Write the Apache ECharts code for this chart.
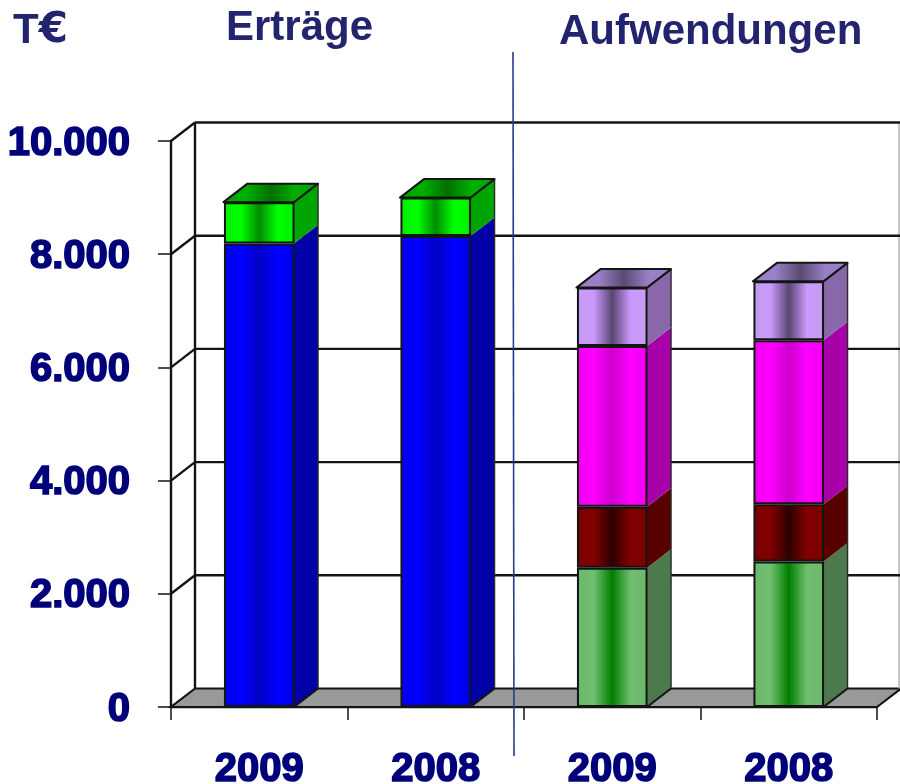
<!DOCTYPE html>
<html><head><meta charset="utf-8">
<style>html,body{margin:0;padding:0;background:#fff}#c{width:900px;height:784px}</style>
<script src="https://cdn.jsdelivr.net/npm/echarts@6/dist/echarts.min.js"></script>
</head><body><div id="c"></div>
<script>
const categories = ['2009','2008','2009','2008'];
const yTicks = [0,2000,4000,6000,8000,10000];
const ertraegeBlue   = [8190,8320,null,null];
const ertraegeGreen  = [730,680,null,null];
const aufwandGreen   = [null,null,2460,2570];
const aufwandRed     = [null,null,1080,1010];
const aufwandMagenta = [null,null,2840,2900];
const aufwandPurple  = [null,null,1030,1040];

const DX = 24, DY = -18.5, INK = '#141414', NAVY = '#00007a', TITLE = '#22246e';
const grad = (edge, bright, mid) => ({type:'linear',x:0,y:0,x2:1,y2:0,colorStops:[
  {offset:0,color:edge},{offset:.24,color:bright},{offset:.5,color:mid},{offset:.76,color:bright},{offset:1,color:edge}]});

const stacks = [
  {name:'Erträge A', values:ertraegeBlue,   front:grad('#0000e8','#0000ff','#0000c4'), side:'#0000a6', top:null},
  {name:'Erträge B', values:ertraegeGreen,  front:grad('#00ee00','#00ff00','#008c00'), side:'#00a400', top:grad('#00a000','#00b000','#007000')},
  {name:'Aufwand A', values:aufwandGreen,   front:grad('#6cb86c','#70bf70','#007e00'), side:'#4d7a4d', top:null},
  {name:'Aufwand B', values:aufwandRed,     front:grad('#7a0000','#820000','#2c0000'), side:'#560000', top:null},
  {name:'Aufwand C', values:aufwandMagenta, front:grad('#f000f0','#ff00ff','#cc00cc'), side:'#a800a8', top:null},
  {name:'Aufwand D', values:aufwandPurple,  front:grad('#c49cf0','#cc99ff','#5a4670'), side:'#8868a8', top:grad('#9a80c8','#9a80c8','#584a70')}
];

/* wall, floor and grid lines */
function renderFrame(params, api){
  const cs = params.coordSys, v = api.value(1);
  const y = api.coord([0,v])[1];
  const L = cs.x, R = cs.x + cs.width;
  const line = (x1,y1,x2,y2,w,c) => ({type:'line',shape:{x1,y1,x2,y2},style:{stroke:c||INK,lineWidth:w||2.4}});
  const kids = [];
  if (v === yTicks[0]) {
    kids.push({type:'polygon',shape:{points:[[L,y],[R,y],[R+DX,y+DY],[L+DX,y+DY]]},style:{fill:'#999999',stroke:INK,lineWidth:2.2}});
    const t = cs.y;
    kids.push(line(L+DX,y+DY,L+DX,t+DY));
    kids.push(line(R+DX-2,y+DY,R+DX-2,t+DY,1.5,'#b4b4b4'));
  } else {
    kids.push(line(L+DX,y+DY,R+DX,y+DY));
    kids.push(line(L,y,L+DX,y+DY));
  }
  return {type:'group',children:kids};
}

/* side and top faces of each stacked segment */
function renderDepth(params, api){
  const i = api.value(0), lo = api.value(1), hi = api.value(2), s = stacks[api.value(3)];
  const c = api.coord([i,lo]), d = api.coord([i,hi]);
  const w = api.size([1,0])[0]*0.4;
  const xl = c[0]-w/2-0.5, xr = c[0]+w/2-0.5, y0 = c[1], y1 = d[1];
  const kids = [
    {type:'polygon',shape:{points:[[xr,y0],[xr+DX,y0+DY],[xr+DX,y1+DY],[xr,y1]]},style:{fill:s.side}},
    {type:'line',shape:{x1:xr+DX,y1:y0+DY,x2:xr+DX,y2:y1+DY},style:{stroke:'#2a2a2a',lineWidth:1.4}}
  ];
  if (lo === 0) kids.push({type:'line',shape:{x1:xr,y1:y0,x2:xr+DX,y2:y0+DY},style:{stroke:INK,lineWidth:2}});
  if (s.top) {
    kids.push({type:'polygon',shape:{points:[[xl,y1],[xr,y1],[xr+DX,y1+DY],[xl+DX,y1+DY]]},style:{fill:s.top,stroke:INK,lineWidth:2,lineJoin:'round'}});
  }
  return {type:'group',children:kids};
}

const depthData = [];
categories.forEach((_,i)=>{
  let base = 0;
  stacks.forEach((s,k)=>{ if (s.values[i]!=null){ depthData.push([i,base,base+s.values[i],k]); base+=s.values[i]; } });
});

const series = [
  {type:'custom',name:'frame',z:1,silent:true,renderItem:renderFrame,data:yTicks.map(v=>[0,v]),encode:{x:0,y:1},clip:false},
  {type:'custom',name:'depth',z:2,silent:true,renderItem:renderDepth,data:depthData,encode:{x:0,y:[1,2]},clip:false}
].concat(stacks.map(s=>({
  type:'bar',name:s.name,stack:'total',barWidth:'40%',z:3,silent:true,data:s.values,
  itemStyle:{color:s.front,borderColor:INK,borderWidth:2}
})));

const chart = echarts.init(document.getElementById('c'),null,{renderer:'canvas'});
chart.setOption({
  animation:false,
  backgroundColor:'#ffffff',
  textStyle:{fontFamily:'Liberation Sans'},
  grid:{left:171,right:23,top:141,bottom:77,containLabel:false,outerBoundsMode:'none'},
  xAxis:{type:'category',data:categories,boundaryGap:true,
    axisLine:{show:true,onZero:false,lineStyle:{color:INK,width:2.4}},
    axisTick:{show:true,length:13,alignWithLabel:false,lineStyle:{color:INK,width:1.5}},
    axisLabel:{margin:43,color:NAVY,fontSize:40,fontWeight:'bold',fontFamily:'Liberation Sans',interval:0,
      textBorderColor:NAVY,textBorderWidth:1.6},
    splitLine:{show:false}},
  yAxis:{type:'value',min:0,max:10000,interval:2000,
    axisLine:{show:true,lineStyle:{color:INK,width:2.4}},
    axisTick:{show:true,length:13,lineStyle:{color:INK,width:1.5}},
    axisLabel:{margin:41,color:NAVY,fontSize:40,fontWeight:'bold',fontFamily:'Liberation Sans',
      textBorderColor:NAVY,textBorderWidth:1.6,verticalAlign:'top',lineHeight:5,
      formatter:v=>String(v).replace(/\B(?=(\d{3})+$)/g,'.')},
    splitLine:{show:false}},
  graphic:[
    {type:'text',left:13,top:10,style:{text:'{a|T}{b|€}',fill:TITLE,rich:{
      a:{fill:TITLE,font:'bold 42px "Liberation Sans"'},
      b:{fill:TITLE,font:'bold 42px "DejaVu Sans"'}}}},
    {type:'text',left:226,top:7,style:{text:'Erträge',fill:TITLE,font:'bold 42px "Liberation Sans"'}},
    {type:'text',left:559,top:11,style:{text:'Aufwendungen',fill:TITLE,font:'bold 42px "Liberation Sans"'}},
    {type:'line',z:50,shape:{x1:513,y1:52,x2:514,y2:756},style:{stroke:'#2b3a8c',lineWidth:1.6}}
  ],
  series
});
</script></body></html>
